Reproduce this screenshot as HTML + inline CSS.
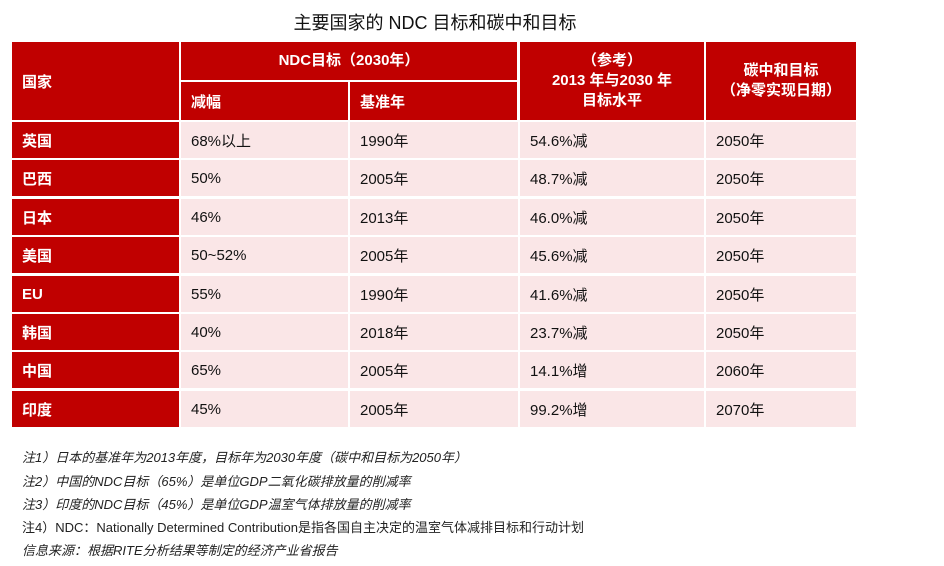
<!DOCTYPE html>
<html><head><meta charset="utf-8">
<style>
body{margin:0;width:944px;height:566px;background:#fff;position:relative;overflow:hidden;font-family:"Liberation Sans","Noto Sans CJK SC",sans-serif;}
.c{position:absolute;box-sizing:border-box;display:flex;align-items:center;}
.h{background:#c00000;color:#fff;font-weight:bold;font-size:15px;}
.d{background:#fae6e7;color:#111;font-size:15px;padding-left:10px;}
.k{background:#c00000;color:#fff;font-weight:bold;font-size:15px;padding-left:10px;}
.n{position:absolute;left:22px;font-size:13px;font-style:italic;color:#222;white-space:nowrap;}
</style></head><body>
<div style="position:absolute;left:0;width:870px;top:9px;text-align:center;font-size:18px;color:#111;">主要国家的 NDC 目标和碳中和目标</div>
<div id="t"></div>
<div class="n" style="top:447px">注1）日本的基准年为2013年度，目标年为2030年度（碳中和目标为2050年）</div>
<div class="n" style="top:471px">注2）中国的NDC目标（65%）是单位GDP二氧化碳排放量的削减率</div>
<div class="n" style="top:494px">注3）印度的NDC目标（45%）是单位GDP温室气体排放量的削减率</div>
<div class="n" style="top:517px;font-style:normal">注4）NDC：Nationally Determined Contribution是指各国自主决定的温室气体减排目标和行动计划</div>
<div class="n" style="top:540px">信息来源：根据RITE分析结果等制定的经济产业省报告</div>
<script>
const countries=["英国","巴西","日本","美国","EU","韩国","中国","印度"];
const cuts=["68%以上","50%","46%","50~52%","55%","40%","65%","45%"];
const bases=["1990年","2005年","2013年","2005年","1990年","2018年","2005年","2005年"];
const levels=["54.6%减","48.7%减","46.0%减","45.6%减","41.6%减","23.7%减","14.1%增","99.2%增"];
const neutral=["2050年","2050年","2050年","2050年","2050年","2050年","2060年","2070年"];
const T=document.getElementById('t');
const colX=[12,180,349,519,705,856];
function cell(x,y,w,h,cls,html,name,center){
  const d=document.createElement('div');
  d.className='c '+cls;
  d.style.cssText=`left:${x}px;top:${y}px;width:${w}px;height:${h}px;`+(center?'justify-content:center;text-align:center;line-height:20px;':'');
  d.innerHTML=html;
  
  
  T.appendChild(d);
}
cell(12,42,167,78,'k','国家','header-country');
cell(181,42,336,38,'h','NDC目标（2030年）','header-ndc',true);
cell(181,82,167,38,'k','减幅','header-cut');
cell(350,82,167,38,'k','基准年','header-base-year');
cell(520,42,184,78,'h','（参考）<br>2013 年与2030 年<br>目标水平','header-level',true);
cell(706,42,150,78,'h','碳中和目标<br>（净零实现日期）','header-neutral',true);
const top0=122,rh=38.3;
countries.forEach((c,i)=>{
  const y=top0+i*(rh+0.1)+(i>0?0:0);
  const yy=Math.round(top0+i*38.4), h=36;
  cell(12,yy,167,h,'k',c,'country-'+i);
  cell(181,yy,167,h,'d',cuts[i],'cut-'+i);
  cell(350,yy,168,h,'d',bases[i],'base-'+i);
  cell(520,yy,184,h,'d',levels[i],'level-'+i);
  cell(706,yy,150,h,'d',neutral[i],'neutral-'+i);
});
</script>
</body></html>
